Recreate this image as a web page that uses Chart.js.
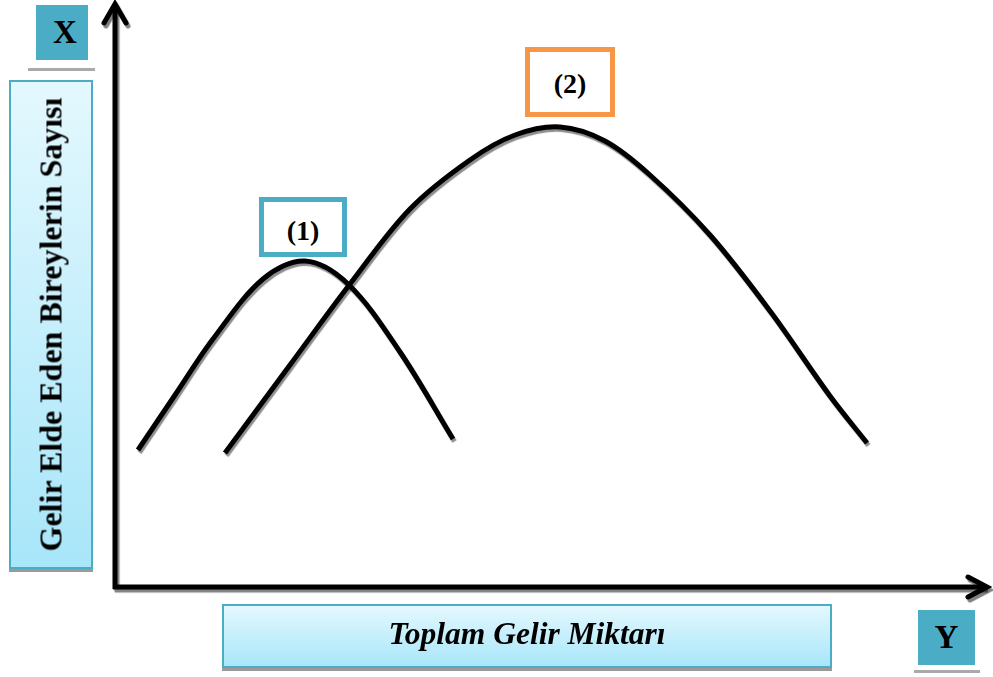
<!DOCTYPE html>
<html>
<head>
<meta charset="utf-8">
<script src="https://cdn.jsdelivr.net/npm/chart.js@4/dist/chart.umd.min.js"></script>
<style>
  html, body { margin:0; padding:0; background:#fff; }
  #wrap { position:relative; width:993px; height:677px; overflow:hidden; }
  #c { position:absolute; left:0; top:0; }
  .lbl { position:absolute; box-sizing:border-box; display:flex; align-items:center; justify-content:center;
         font-family:"Liberation Serif","Times New Roman",serif; font-weight:bold; color:#000; }
  .grad { background:linear-gradient(to bottom,#e4f8fe,#a8e6f9); border:2px solid #4bacc6;
          box-shadow:0 3px 0 #9a9a9a; }
  .teal { background:#4bacc6; }
  .frame { background:#fff; }
</style>
</head>
<body>
<div id="wrap">
  <canvas id="c" width="993" height="677"></canvas>
  <div class="lbl teal" style="left:36px;top:5px;width:52px;height:55px;font-size:33px;padding-left:6px;">X</div>
  <div style="position:absolute;left:28px;top:68px;width:67px;height:3px;background:#aaa;"></div>
  <div class="lbl grad" style="left:9px;top:80px;width:84px;height:489px;">
    <div style="transform:rotate(-90deg);white-space:nowrap;font-size:32px;">Gelir Elde Eden Bireylerin Sayısı</div>
  </div>
  <div class="lbl grad" style="left:222px;top:604px;width:610px;height:64px;font-size:31.5px;font-style:italic;padding-bottom:4px;">Toplam Gelir Miktarı</div>
  <div class="lbl teal" style="left:918px;top:610px;width:57px;height:55px;font-size:33px;">Y</div>
  <div style="position:absolute;left:914px;top:670px;width:66px;height:3px;background:#aaa;"></div>
  <div class="lbl frame" style="left:259px;top:197px;width:88px;height:60px;border:5px solid #4bacc6;font-size:28px;padding-top:8px;">(1)</div>
  <div class="lbl frame" style="left:525px;top:47px;width:90px;height:70px;border:5px solid #f79646;font-size:28px;padding-top:3px;">(2)</div>
</div>
<script>
// Horizontal axis: total income (0-100 units); vertical axis: number of earners (0-100 units)
const curve1X = [2.64, 6.90, 11.26, 17.01, 21.84, 26.78, 32.76, 38.85];
const curve1Y = [23.54, 32.99, 42.61, 52.92, 56.01, 52.06, 40.38, 25.43];
const curve2X = [12.64, 20.11, 27.01, 33.91, 40.80, 45.98, 51.15, 56.32, 61.49, 68.39, 75.29, 82.18, 86.44];
const curve2Y = [23.02, 38.14, 52.06, 64.95, 73.37, 77.66, 79.04, 76.63, 70.79, 60.48, 47.42, 32.82, 24.74];
const seriesNames = ['(1)', '(2)'];

const toPts = (xs, ys) => xs.map((x, i) => ({ x: x, y: ys[i] }));

const shadowPlugin = {
  id: 'shadow',
  beforeDatasetDraw(chart) {
    const ctx = chart.ctx;
    ctx.save();
    ctx.shadowColor = 'rgba(0,0,0,0.45)';
    ctx.shadowOffsetX = 1.5;
    ctx.shadowOffsetY = 2.5;
    ctx.shadowBlur = 1;
  },
  afterDatasetDraw(chart) { chart.ctx.restore(); }
};

const axesPlugin = {
  id: 'axesArrows',
  beforeDatasetsDraw(chart) {
    const ctx = chart.ctx;
    const xs = chart.scales.x, ys = chart.scales.y;
    const x0 = xs.getPixelForValue(0);
    const y0 = ys.getPixelForValue(0);
    const xEnd = xs.getPixelForValue(100) + 3;
    const yEnd = ys.getPixelForValue(100) - 2;
    ctx.save();
    ctx.strokeStyle = '#000';
    ctx.lineWidth = 5;
    ctx.lineCap = 'butt';
    ctx.lineJoin = 'miter';
    ctx.shadowColor = 'rgba(0,0,0,0.5)';
    ctx.shadowOffsetX = 2;
    ctx.shadowOffsetY = 3;
    ctx.shadowBlur = 1;
    ctx.beginPath();
    ctx.moveTo(x0, y0 + 2);
    ctx.lineTo(x0, yEnd + 2);
    ctx.moveTo(x0 - 2, y0);
    ctx.lineTo(xEnd - 2, y0);
    ctx.stroke();
    ctx.lineWidth = 5;
    ctx.lineCap = 'round';
    ctx.beginPath();
    ctx.moveTo(x0 - 11, yEnd + 20);
    ctx.lineTo(x0, yEnd + 1);
    ctx.lineTo(x0 + 11, yEnd + 20);
    ctx.moveTo(xEnd - 20, y0 - 10);
    ctx.lineTo(xEnd - 1, y0);
    ctx.lineTo(xEnd - 20, y0 + 10);
    ctx.stroke();
    ctx.restore();
  }
};

new Chart(document.getElementById('c'), {
  type: 'scatter',
  data: {
    datasets: [
      { label: seriesNames[0], data: toPts(curve1X, curve1Y), showLine: true, pointRadius: 0,
        borderColor: '#000', borderWidth: 5, borderCapStyle: 'butt', tension: 0.34, fill: false },
      { label: seriesNames[1], data: toPts(curve2X, curve2Y), showLine: true, pointRadius: 0,
        borderColor: '#000', borderWidth: 5, borderCapStyle: 'butt', tension: 0.34, fill: false }
    ]
  },
  options: {
    responsive: false,
    animation: false,
    events: [],
    layout: { padding: { left: 115, top: 5, right: 8, bottom: 90 } },
    plugins: { legend: { display: false }, tooltip: { enabled: false }, title: { display: false } },
    scales: {
      x: { type: 'linear', min: 0, max: 100, display: false },
      y: { type: 'linear', min: 0, max: 100, display: false }
    }
  },
  plugins: [axesPlugin, shadowPlugin]
});
</script>
</body>
</html>
